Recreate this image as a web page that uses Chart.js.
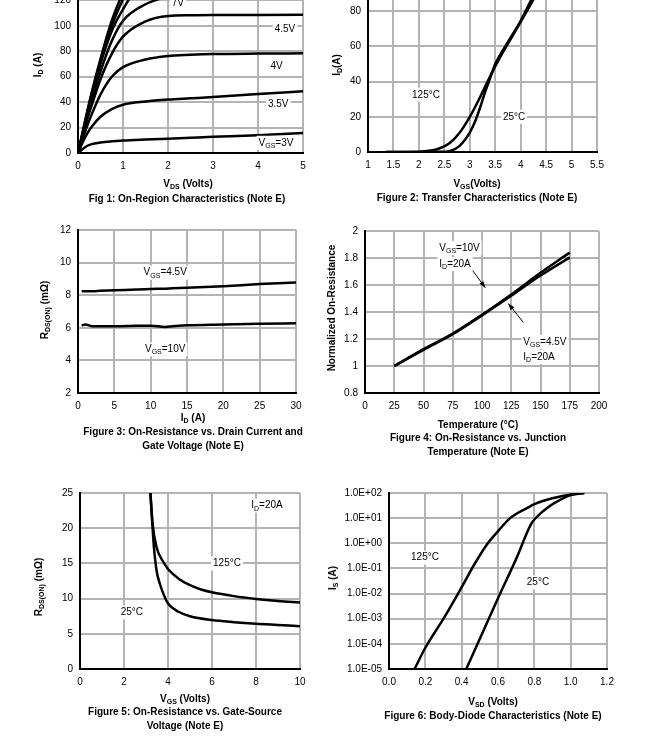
<!DOCTYPE html>
<html>
<head>
<meta charset="utf-8">
<script src="https://cdn.jsdelivr.net/npm/chart.js@4.4.0/dist/chart.umd.min.js"></script>
<style>
  body { margin: 0; width: 656px; height: 754px; overflow: hidden; background: #fff; position: relative;
         font-family: "Liberation Sans", Arial, sans-serif; }
  .box { position: absolute; }
  .t { position: absolute; transform: translate(-50%, -50%); font-weight: bold; font-size: 10px;
       white-space: nowrap; color: #000; line-height: 12px; }
  .t sub { font-size: 7px; vertical-align: -2px; line-height: 0; }
  .r { transform: translate(-50%, -50%) rotate(-90deg); }
</style>
</head>
<body>

<!-- axis titles and captions -->
<div class="t r" style="left:38px;top:65px">I<sub>D</sub> (A)</div>
<div class="t" style="left:188px;top:184px">V<sub>DS</sub> (Volts)</div>
<div class="t" style="left:187px;top:199px">Fig 1: On-Region Characteristics (Note E)</div>

<div class="t r" style="left:337px;top:65px">I<sub>D</sub>(A)</div>
<div class="t" style="left:477px;top:184px">V<sub>GS</sub>(Volts)</div>
<div class="t" style="left:477px;top:198px">Figure 2: Transfer Characteristics (Note E)</div>

<div class="t r" style="left:45px;top:310px">R<sub>DS(ON)</sub> (mΩ)</div>
<div class="t" style="left:193px;top:418px">I<sub>D</sub> (A)</div>
<div class="t" style="left:193px;top:432px">Figure 3: On-Resistance vs. Drain Current and</div>
<div class="t" style="left:193px;top:446px">Gate Voltage (Note E)</div>

<div class="t r" style="left:332px;top:308px">Normalized On-Resistance</div>
<div class="t" style="left:478px;top:425px">Temperature (°C)</div>
<div class="t" style="left:478px;top:438px">Figure 4: On-Resistance vs. Junction</div>
<div class="t" style="left:478px;top:452px">Temperature (Note E)</div>

<div class="t r" style="left:39px;top:587px">R<sub>DS(ON)</sub> (mΩ)</div>
<div class="t" style="left:185px;top:699px">V<sub>GS</sub> (Volts)</div>
<div class="t" style="left:185px;top:712px">Figure 5: On-Resistance vs. Gate-Source</div>
<div class="t" style="left:185px;top:726px">Voltage (Note E)</div>

<div class="t r" style="left:333px;top:578px">I<sub>S</sub> (A)</div>
<div class="t" style="left:493px;top:702px">V<sub>SD</sub> (Volts)</div>
<div class="t" style="left:493px;top:716px">Figure 6: Body-Diode Characteristics (Note E)</div>

<script>
Chart.defaults.font.family = '"Liberation Sans", Arial, sans-serif';
Chart.defaults.font.size = 10;
Chart.defaults.color = '#000';

// ---- Fig 1: On-region characteristics
const f1Vds = [0, 0.1, 0.2, 0.3, 0.5, 0.75, 1, 1.5, 2, 2.5, 3, 4, 5];
const f1Vgs10 = [0, 16, 32, 47, 74, 104, 126, 160, 180, 190, 195, 200, 200];
const f1Vgs7 = [0, 15.5, 31, 46, 72, 100, 121, 155, 175, 185, 190, 195, 195];
const f1Vgs6 = [0, 15, 30, 44, 70, 96, 113, 140, 155, 160, 163, 165, 166];
const f1Vgs5 = [0, 14, 28, 41, 64, 88, 104, 117, 123, 126, 127, 128, 128.5];
const f1Vgs45 = [0, 13, 26, 37, 58, 78, 91.5, 103.5, 107.8, 108.3, 108.5, 108.6, 108.7];
const f1Vgs4 = [0, 11, 21, 30, 46, 60, 67.5, 73.5, 76.3, 77.2, 77.8, 78.2, 78.4];
const f1Vgs35 = [0, 8, 15, 20.5, 28.5, 34.5, 38, 40.5, 42, 43, 44, 46.5, 48.5];
const f1Vgs3 = [0, 3, 5.5, 7, 8.3, 9.2, 9.8, 10.6, 11.3, 12, 12.7, 14, 15.8];
const f1XTicks = [0, 1, 2, 3, 4, 5];
const f1YTicks = [0, 20, 40, 60, 80, 100, 120, 140];

// ---- Fig 2: Transfer characteristics
const f2Vgs25 = [1.35, 2, 2.4, 2.6, 2.8, 3.0, 3.1, 3.2, 3.3, 3.4, 3.5, 3.75, 4.0, 4.2, 4.4];
const f2Id25 = [0, 0, 0.1, 0.5, 3.5, 11, 17, 25, 34, 42, 50, 62.5, 74.5, 86, 97];
const f2Vgs125 = [1.35, 2, 2.2, 2.4, 2.6, 2.8, 3.0, 3.2, 3.4, 3.6, 3.8, 4.0, 4.2, 4.4];
const f2Id125 = [0, 0.2, 0.7, 2, 5, 11, 20, 31, 43, 54, 64, 74, 84, 94];
const f2XTicks = [1, 1.5, 2, 2.5, 3, 3.5, 4, 4.5, 5, 5.5];
const f2YTicks = [0, 20, 40, 60, 80, 100];

// ---- Fig 3: On-resistance vs drain current
const f3Id = [0.5, 1, 2, 3, 5, 8, 10, 12, 13, 15, 20, 25, 30];
const f3Vgs45 = [8.25, 8.25, 8.25, 8.27, 8.3, 8.35, 8.38, 8.4, 8.42, 8.45, 8.55, 8.68, 8.78];
const f3Vgs10 = [6.13, 6.2, 6.1, 6.1, 6.1, 6.12, 6.13, 6.05, 6.1, 6.15, 6.2, 6.25, 6.28];
const f3XTicks = [0, 5, 10, 15, 20, 25, 30];
const f3YTicks = [2, 4, 6, 8, 10, 12];

// ---- Fig 4: On-resistance vs junction temperature
const f4Temp = [25, 50, 75, 100, 125, 150, 175];
const f4Vgs10 = [1.0, 1.125, 1.24, 1.38, 1.53, 1.69, 1.84];
const f4Vgs45 = [1.0, 1.12, 1.235, 1.375, 1.52, 1.67, 1.805];
const f4XTicks = [0, 25, 50, 75, 100, 125, 150, 175, 200];
const f4YTicks = [0.8, 1, 1.2, 1.4, 1.6, 1.8, 2];

// ---- Fig 5: On-resistance vs gate-source voltage
const f5Vgs25 = [3.2, 3.26, 3.36, 3.48, 3.64, 3.8, 4.0, 4.5, 5, 6, 7, 8, 9, 10];
const f5R25 = [25, 22, 17.3, 14, 12, 10.6, 9.3, 8.1, 7.5, 6.95, 6.65, 6.42, 6.25, 6.08];
const f5Vgs125 = [3.2, 3.3, 3.48, 3.79, 4.0, 4.5, 5, 5.5, 6, 7, 8, 9, 10];
const f5R125 = [25, 20.6, 17.3, 15.2, 14.2, 12.8, 11.9, 11.3, 10.9, 10.35, 9.95, 9.65, 9.43];
const f5XTicks = [0, 2, 4, 6, 8, 10];
const f5YTicks = [0, 5, 10, 15, 20, 25];

// ---- Fig 6: Body-diode characteristics
const f6Vsd125 = [0.141, 0.2, 0.3, 0.4, 0.471, 0.544, 0.603, 0.667, 0.764, 0.8, 0.9, 1.0, 1.075];
const f6Is125 = [1e-5, 7e-5, 1e-3, 1.8e-2, 0.15, 1, 3.2, 10, 26, 36, 62, 88, 100];
const f6Vsd25 = [0.425, 0.5, 0.6, 0.7, 0.782, 0.81, 0.883, 0.947, 1.0, 1.075];
const f6Is25 = [1e-5, 1.6e-4, 6.5e-3, 0.24, 5.8, 10.6, 30, 56, 82, 100];
const f6XTicks = [0, 0.2, 0.4, 0.6, 0.8, 1.0, 1.2];
const f6YTicks = [1e-5, 1e-4, 1e-3, 1e-2, 1e-1, 1e0, 1e1, 1e2];

function pts(xs, ys) { return xs.map((x, i) => ({ x: x, y: ys[i] })); }

function sci(v) {
  const e = Math.round(Math.log10(v));
  return '1.0E' + (e < 0 ? '-' : '+') + String(Math.abs(e)).padStart(2, '0');
}

// text like V_GS=4.5V: parts = [[text, isSub], ...]
function drawRich(ctx, parts, cx, cy, align, box) {
  let w = 0;
  parts.forEach(p => { ctx.font = (p[1] ? '7px' : '10px') + ' "Liberation Sans", Arial'; w += ctx.measureText(p[0]).width; });
  let x = align === 'left' ? cx : cx - w / 2;
  if (box) { ctx.fillStyle = '#fff'; ctx.fillRect(x - 2, cy - 7, w + 4, 14); }
  ctx.fillStyle = '#000';
  ctx.textBaseline = 'middle';
  ctx.textAlign = 'left';
  parts.forEach(p => {
    ctx.font = (p[1] ? '7px' : '10px') + ' "Liberation Sans", Arial';
    ctx.fillText(p[0], x, p[1] ? cy + 3 : cy);
    x += ctx.measureText(p[0]).width;
  });
}

function notes(items, arrows) {
  return {
    id: 'notes',
    afterDatasetsDraw(chart) {
      const ctx = chart.ctx, sx = chart.scales.x, sy = chart.scales.y;
      ctx.save();
      (arrows || []).forEach(a => {
        const x1 = sx.getPixelForValue(a[0]), y1 = sy.getPixelForValue(a[1]);
        const x2 = sx.getPixelForValue(a[2]), y2 = sy.getPixelForValue(a[3]);
        ctx.strokeStyle = '#000'; ctx.lineWidth = 1;
        ctx.beginPath(); ctx.moveTo(x1, y1); ctx.lineTo(x2, y2); ctx.stroke();
        const ang = Math.atan2(y2 - y1, x2 - x1);
        ctx.beginPath();
        ctx.moveTo(x2, y2);
        ctx.lineTo(x2 - 7 * Math.cos(ang - 0.35), y2 - 7 * Math.sin(ang - 0.35));
        ctx.lineTo(x2 - 7 * Math.cos(ang + 0.35), y2 - 7 * Math.sin(ang + 0.35));
        ctx.closePath(); ctx.fillStyle = '#000'; ctx.fill();
      });
      items.forEach(it => {
        drawRich(ctx, it.parts, sx.getPixelForValue(it.x), sy.getPixelForValue(it.y), it.align, true);
      });
      ctx.restore();
    }
  };
}

function axis(a, dir) {
  return {
    type: a.log ? 'logarithmic' : 'linear',
    min: a.ticks[0],
    max: a.ticks[a.ticks.length - 1],
    afterBuildTicks: s => { s.ticks = a.ticks.map(v => ({ value: v })); },
    afterFit: s => { if (dir === 'x') s.height = 28; else s.width = 60; },
    grid: { color: '#b3b3b3', lineWidth: 2, drawTicks: false },
    border: { color: '#000', width: 2 },
    ticks: { padding: 7, autoSkip: false, maxRotation: 0, callback: a.fmt }
  };
}

function makeChart(rect, xAxis, yAxis, sets, items, arrows) {
  const W = rect.r - rect.l + 80, H = rect.b - rect.t + 40;
  const div = document.createElement('div');
  div.className = 'box';
  div.style.left = (rect.l - 60) + 'px';
  div.style.top = (rect.t - 12) + 'px';
  const cv = document.createElement('canvas');
  cv.width = W; cv.height = H;
  div.appendChild(cv);
  document.body.insertBefore(div, document.body.firstChild);
  new Chart(cv, {
    type: 'line',
    data: {
      datasets: sets.map(d => ({
        data: d, borderColor: '#000', borderWidth: 2.5, pointRadius: 0,
        cubicInterpolationMode: 'monotone', fill: false
      }))
    },
    options: {
      responsive: false, animation: false, events: [],
      layout: { autoPadding: false, padding: { left: 0, top: 12, right: 20, bottom: 0 } },
      plugins: { legend: { display: false }, tooltip: { enabled: false } },
      scales: { x: axis(xAxis, 'x'), y: axis(yAxis, 'y') }
    },
    plugins: [notes(items, arrows)]
  });
}

const int = v => String(v);
const dec1 = v => v.toFixed(1);
const trim = v => String(+v.toFixed(2));
const sub = (a, b, c) => [[a], [b, 1], [c]];

makeChart({ l: 78, r: 303, t: -26.2, b: 153 },
  { ticks: f1XTicks, fmt: int }, { ticks: f1YTicks, fmt: int },
  [f1Vgs10, f1Vgs7, f1Vgs6, f1Vgs5, f1Vgs45, f1Vgs4, f1Vgs35, f1Vgs3].map(s => pts(f1Vds, s)),
  [
    { x: 2.22, y: 117.4, parts: [['7V']] },
    { x: 4.6, y: 97.4, parts: [['4.5V']] },
    { x: 4.415, y: 68, parts: [['4V']] },
    { x: 4.45, y: 38.3, parts: [['3.5V']] },
    { x: 4.4, y: 8.05, parts: sub('V', 'GS', '=3V') }
  ]);

makeChart({ l: 368, r: 597, t: -24.8, b: 152.7 },
  { ticks: f2XTicks, fmt: trim }, { ticks: f2YTicks, fmt: int },
  [pts(f2Vgs25, f2Id25), pts(f2Vgs125, f2Id125)],
  [
    { x: 2.14, y: 32.5, parts: [['125°C']] },
    { x: 3.87, y: 20, parts: [['25°C']] }
  ]);

makeChart({ l: 78, r: 296, t: 229, b: 393 },
  { ticks: f3XTicks, fmt: int }, { ticks: f3YTicks, fmt: int },
  [pts(f3Id, f3Vgs45), pts(f3Id, f3Vgs10)],
  [
    { x: 12, y: 9.38, parts: sub('V', 'GS', '=4.5V') },
    { x: 12, y: 4.68, parts: sub('V', 'GS', '=10V') }
  ]);

makeChart({ l: 365, r: 599, t: 230, b: 393 },
  { ticks: f4XTicks, fmt: int }, { ticks: f4YTicks, fmt: trim },
  [pts(f4Temp, f4Vgs10), pts(f4Temp, f4Vgs45)],
  [
    { x: 63.5, y: 1.875, align: 'left', parts: sub('V', 'GS', '=10V') },
    { x: 63.5, y: 1.755, align: 'left', parts: sub('I', 'D', '=20A') },
    { x: 135.3, y: 1.178, align: 'left', parts: sub('V', 'GS', '=4.5V') },
    { x: 135.3, y: 1.067, align: 'left', parts: sub('I', 'D', '=20A') }
  ],
  [[90.9, 1.72, 102.8, 1.58], [135.3, 1.323, 122.5, 1.463]]);

makeChart({ l: 80, r: 300, t: 492, b: 669 },
  { ticks: f5XTicks, fmt: int }, { ticks: f5YTicks, fmt: int },
  [pts(f5Vgs25, f5R25), pts(f5Vgs125, f5R125)],
  [
    { x: 8.5, y: 23.2, parts: sub('I', 'D', '=20A') },
    { x: 6.68, y: 15, parts: [['125°C']] },
    { x: 2.36, y: 8.05, parts: [['25°C']] }
  ]);

makeChart({ l: 389, r: 607, t: 492, b: 669 },
  { ticks: f6XTicks, fmt: dec1 }, { ticks: f6YTicks, fmt: sci, log: true },
  [pts(f6Vsd125, f6Is125), pts(f6Vsd25, f6Is25)],
  [
    { x: 0.198, y: 0.27, parts: [['125°C']] },
    { x: 0.82, y: 0.0275, parts: [['25°C']] }
  ]);
</script>
</body>
</html>
